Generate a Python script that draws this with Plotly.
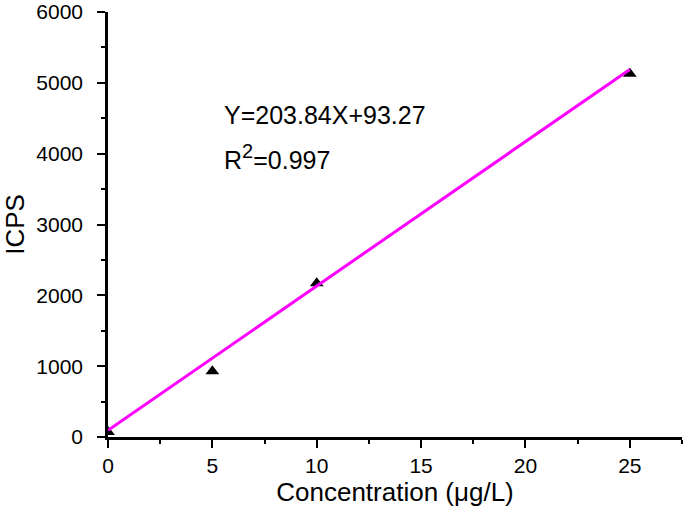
import plotly.graph_objects as go
import numpy as np

# calibration data
conc = [0, 5, 10, 25]
icps = [70, 930, 2170, 5130]

# linear fit from the figure
slope = 203.84
intercept = 93.27
r2 = 0.997
fit_x = np.array([0, 25])
fit_y = slope * fit_x + intercept

font_family = "Liberation Sans, Arial, sans-serif"

fig = go.Figure()

fig.add_trace(go.Scatter(
    x=conc, y=icps, mode="markers",
    marker=dict(symbol="triangle-up", size=12, color="black"),
    showlegend=False,
))

fig.add_trace(go.Scatter(
    x=fit_x, y=fit_y, mode="lines",
    line=dict(color="#FF00FF", width=3),
    showlegend=False,
))

# equation text
fig.add_annotation(
    x=5.45, y=4540, xref="x", yref="y",
    text="Y=%.2fX+%.2f" % (slope, intercept),
    showarrow=False, xanchor="left", yanchor="middle",
    font=dict(size=25, color="black", family=font_family),
)
fig.add_annotation(
    x=5.45, y=3960, xref="x", yref="y",
    text="R<sup><span style='font-size:20px'>2</span></sup>=%.3f" % r2,
    showarrow=False, xanchor="left", yanchor="middle",
    font=dict(size=25, color="black", family=font_family),
)

axis_common = dict(
    showline=True, linecolor="black", linewidth=2.5,
    ticks="outside", ticklen=8, tickwidth=2, tickcolor="black",
    showgrid=False, zeroline=False, mirror=False, automargin=False,
    ticklabeloverflow="allow",
    tickfont=dict(size=21, color="black", family=font_family),
)

fig.update_xaxes(
    range=[0, 27.5], dtick=5, tick0=0,
    minor=dict(ticks="outside", ticklen=4, tickwidth=2, tickcolor="black", dtick=2.5),
    title=dict(text="Concentration (μg/L)", font=dict(size=26, color="black", family=font_family), standoff=3),
    **axis_common,
)
fig.update_yaxes(
    range=[0, 6000], dtick=1000, tick0=0,
    minor=dict(ticks="outside", ticklen=4, tickwidth=2, tickcolor="black", dtick=500),
    ticklabelstandoff=10,
    title=dict(text="ICPS", font=dict(size=26, color="black", family=font_family), standoff=10),
    **axis_common,
)

fig.update_layout(
    width=685, height=518,
    margin=dict(l=108, r=3, t=12, b=81),
    plot_bgcolor="white", paper_bgcolor="white",
)

fig.write_html(
    "out.html",
    config={"displayModeBar": False},
    post_script="document.body.style.margin='0';",
)
